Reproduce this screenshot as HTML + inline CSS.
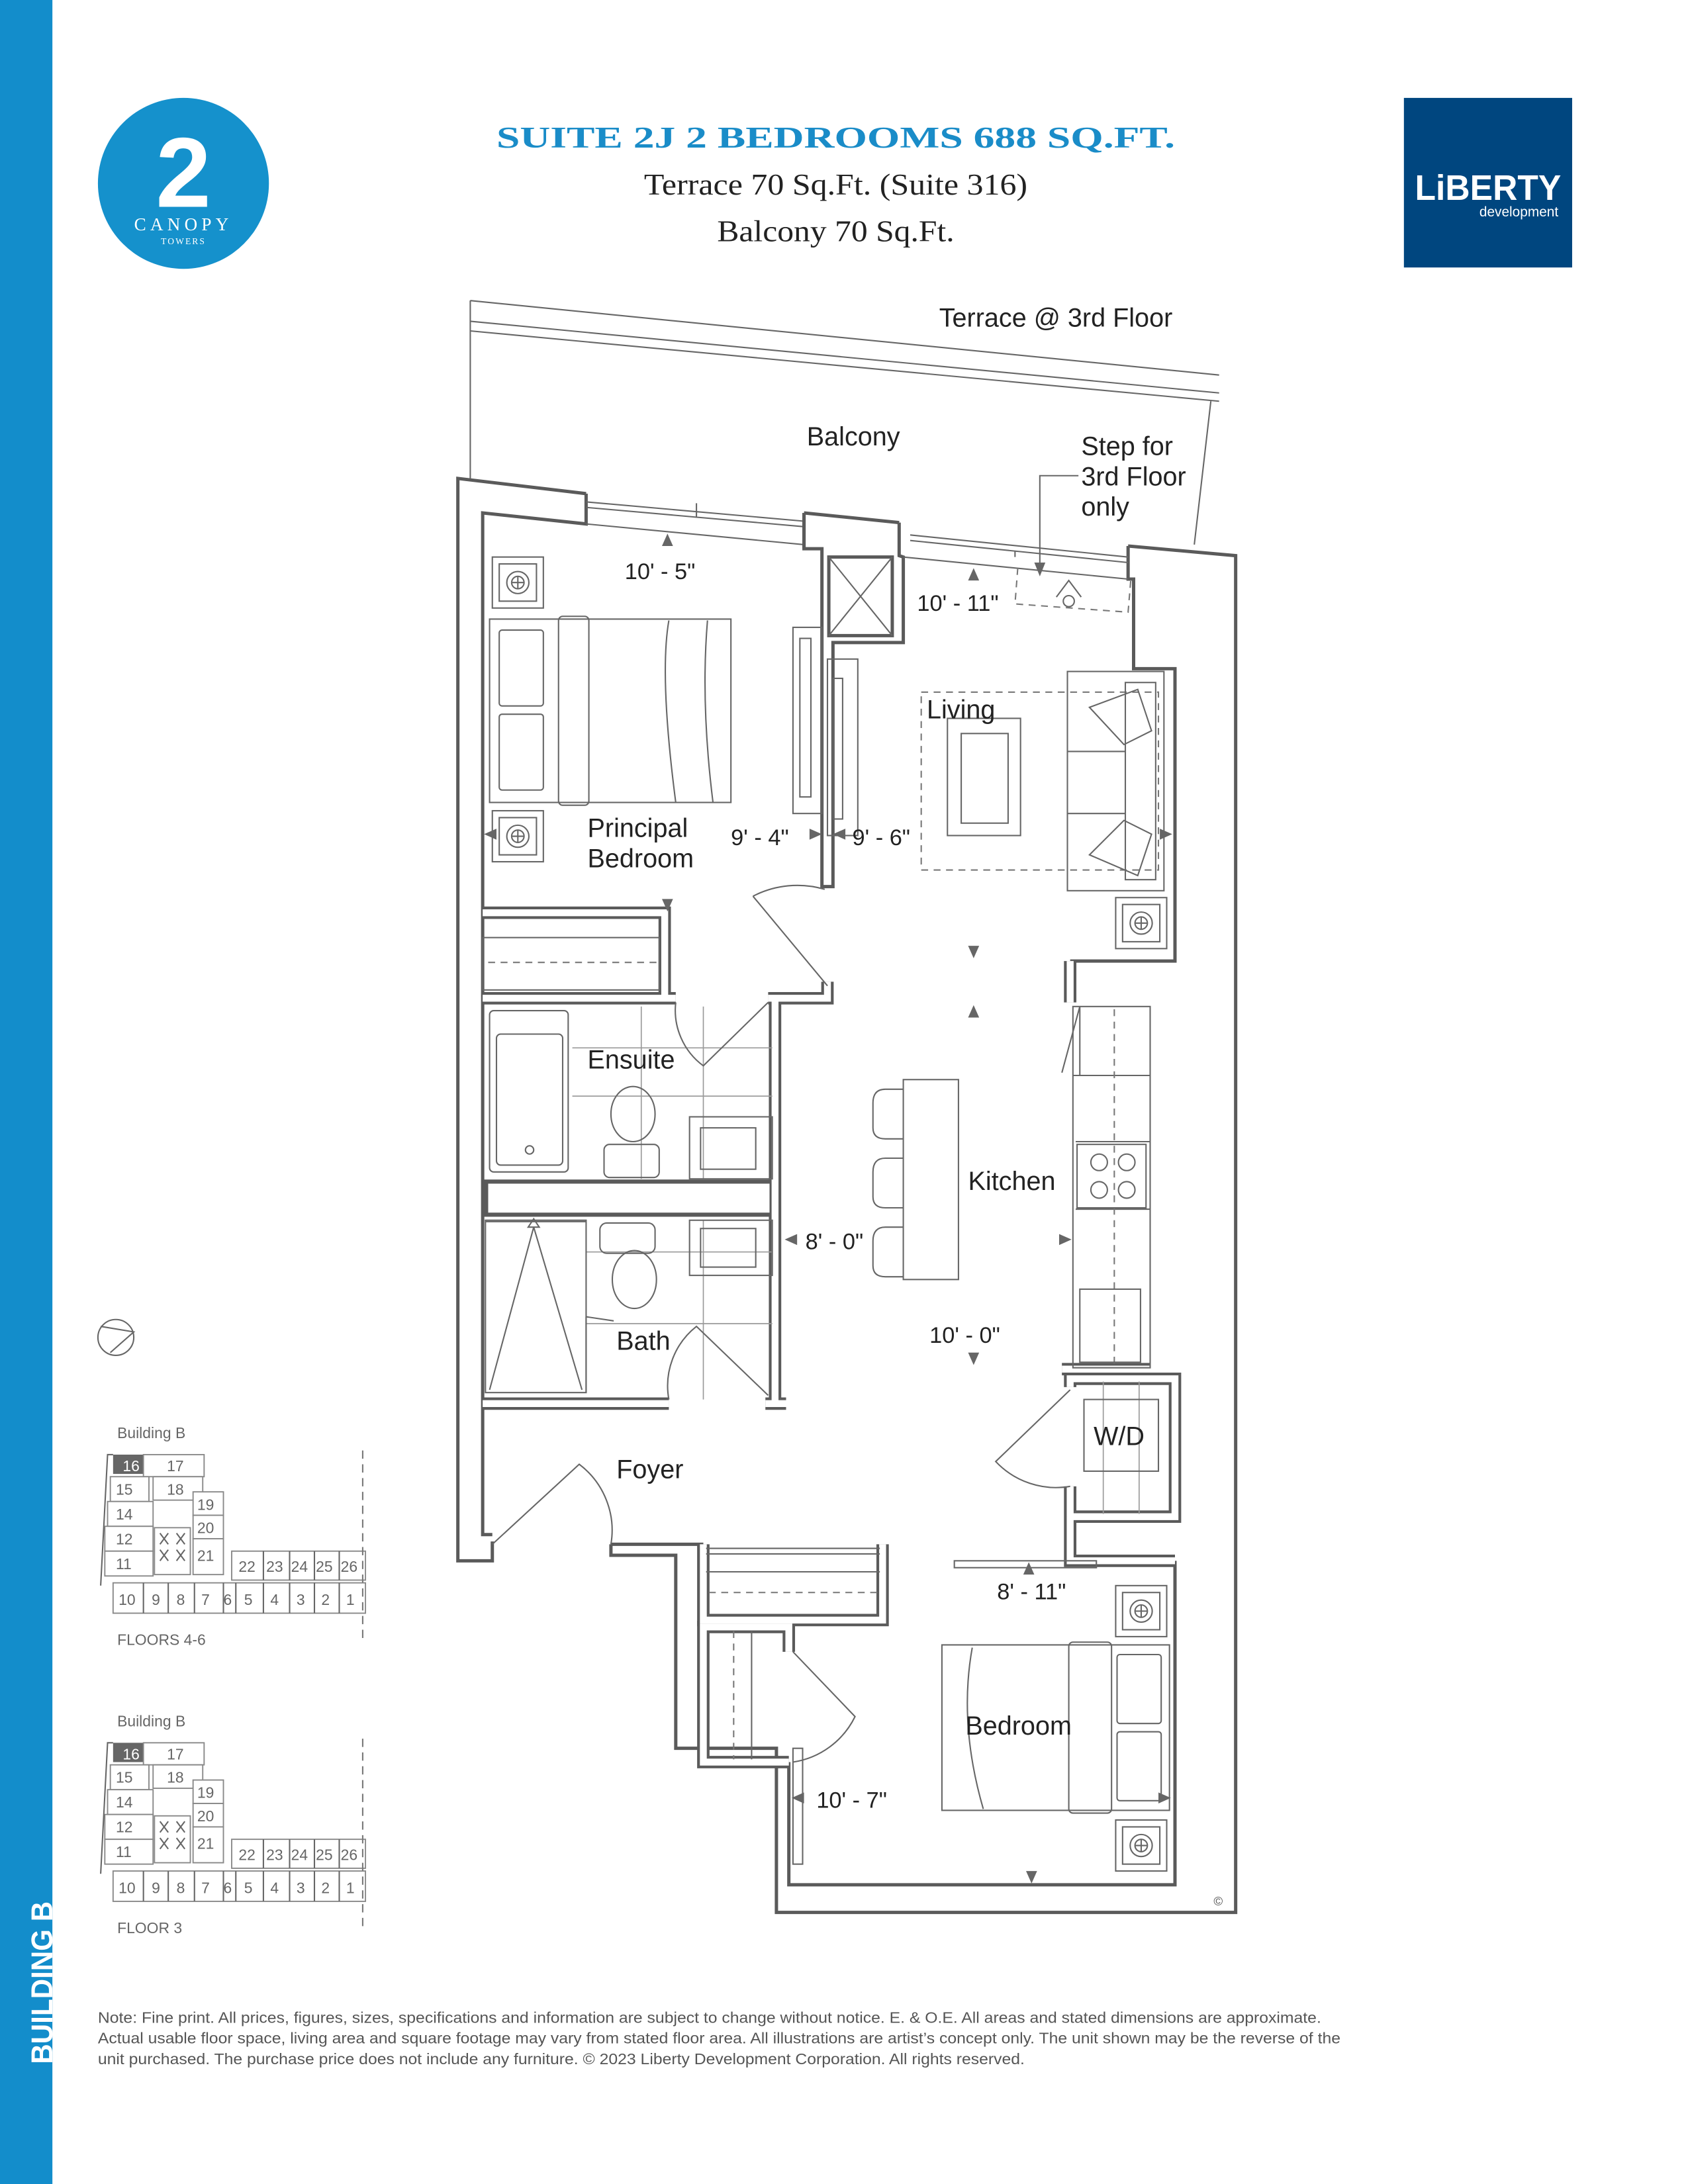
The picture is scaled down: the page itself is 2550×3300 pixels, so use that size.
<!DOCTYPE html>
<html><head><meta charset="utf-8">
<style>
html,body{margin:0;padding:0;background:#fff;}
svg{display:block}
.t{font-family:"Liberation Sans",sans-serif;fill:#222}
.s{font-family:"Liberation Serif",serif}
.d{stroke:#5a5a5a;stroke-width:9;fill:none;stroke-linejoin:miter}
.l{stroke:#fff;stroke-width:5;fill:none;stroke-linejoin:miter}
.ln{stroke:#5a5a5a;stroke-width:2.4;fill:none}
.th{stroke:#666;stroke-width:1;fill:none}
.tl{stroke:#9a9a9a;stroke-width:0.8;fill:none}
.ds{stroke:#777;stroke-width:1;fill:none;stroke-dasharray:5 4}
.ar{fill:#666}
.k{stroke:#888;stroke-width:0.9;fill:#fff}
.kt{font-family:"Liberation Sans",sans-serif;fill:#666;font-size:11px}
</style></head><body>
<svg width="2550" height="3300" viewBox="0 0 1224 1584" xmlns="http://www.w3.org/2000/svg">
<defs>
<path id="w1" d="M350,662 L482,662 L482,724"/>
<path id="w2" d="M350,724 L490,724 M557,724 L600,724 L600,712"/>
<path id="w3" d="M562,724 L562,1018"/>
<path id="w5" d="M350,1018 L485,1018 M555,1018 L570,1018"/>
<path id="w7" d="M770,993 L834,993 M776,1006 L776,1000 L852,1000 L852,1100 L776,1100 L776,1078 M776,1100 L776,1132 L852,1132"/>
<path id="w8" d="M510,1120 L510,1175 L640,1175 L640,1120"/>
<path id="w9" d="M572,1198 L572,1180 L510,1180 L510,1278 L572,1278"/>
<path id="w10" d="M776,697 L776,727"/>
<g id="ns"><rect x="0" y="0" width="37" height="37" class="th" fill="#fff"/><rect x="5" y="5" width="27" height="27" class="th"/><circle cx="18.5" cy="18.5" r="8" class="th"/><circle cx="18.5" cy="18.5" r="4.5" class="th"/><path d="M14,18.5h9M18.5,14v9" class="th"/></g>
<g id="key">
<text x="85" y="1043" class="kt" font-size="10.5">Building B</text>
<rect x="82" y="1055" width="22" height="14" fill="#666"/>
<text x="89" y="1067" class="kt" fill="#fff" style="fill:#fff">16</text>
<rect x="104" y="1055" width="44" height="16" class="k"/><text x="121" y="1067" class="kt">17</text>
<rect x="111" y="1071" width="36" height="17" class="k"/><text x="121" y="1084" class="kt">18</text>
<rect x="80" y="1071" width="28" height="18" class="k"/><text x="84" y="1084" class="kt">15</text>
<rect x="78" y="1089" width="33" height="18" class="k"/><text x="84" y="1102" class="kt">14</text>
<rect x="140" y="1082" width="22" height="17" class="k"/><text x="143" y="1095" class="kt">19</text>
<rect x="140" y="1099" width="22" height="17" class="k"/><text x="143" y="1112" class="kt">20</text>
<rect x="76" y="1107" width="35" height="18" class="k"/><text x="84" y="1120" class="kt">12</text>
<rect x="76" y="1125" width="35" height="18" class="k"/><text x="84" y="1138" class="kt">11</text>
<rect x="112" y="1108" width="26" height="34" class="k"/>
<path d="M116,1112l6,8m0,-8l-6,8M128,1112l6,8m0,-8l-6,8M116,1124l6,8m0,-8l-6,8M128,1124l6,8m0,-8l-6,8" class="th"/>
<rect x="140" y="1116" width="22" height="26" class="k"/><text x="143" y="1132" class="kt">21</text>
<rect x="168" y="1125" width="97" height="21" class="k"/>
<path d="M191,1125v21M210,1125v21M228,1125v21M246,1125v21" class="th"/>
<text x="173" y="1140" class="kt">22</text><text x="193" y="1140" class="kt">23</text><text x="211" y="1140" class="kt">24</text><text x="229" y="1140" class="kt">25</text><text x="247" y="1140" class="kt">26</text>
<rect x="82" y="1148" width="183" height="22" class="k"/>
<path d="M104,1148v22M122,1148v22M141,1148v22M162,1148v22M171,1148v22M191,1148v22M210,1148v22M228,1148v22M246,1148v22" class="th"/>
<text x="86" y="1164" class="kt">10</text><text x="110" y="1164" class="kt">9</text><text x="128" y="1164" class="kt">8</text><text x="146" y="1164" class="kt">7</text><text x="162" y="1164" class="kt">6</text><text x="177" y="1164" class="kt">5</text><text x="196" y="1164" class="kt">4</text><text x="215" y="1164" class="kt">3</text><text x="233" y="1164" class="kt">2</text><text x="251" y="1164" class="kt">1</text>
<path d="M73,1150 L78,1055 L82,1055" class="th"/>
<path d="M263,1052 V1190" stroke="#777" stroke-width="1" stroke-dasharray="6 4"/>
</g>
</defs>

<!-- sidebar -->
<rect x="0" y="0" width="38" height="1584" fill="#138dcb"/>
<text transform="translate(38,1497) rotate(-90)" font-family="Liberation Sans,sans-serif" font-weight="bold" font-size="22" fill="#fff" textLength="118" lengthAdjust="spacingAndGlyphs">BUILDING B</text>

<!-- logo -->
<circle cx="133" cy="133" r="62" fill="#1591cc"/>
<text x="133" y="150" text-anchor="middle" font-family="Liberation Sans,sans-serif" font-weight="bold" font-size="72" fill="#fff">2</text>
<text x="133" y="167" text-anchor="middle" class="s" font-size="13" fill="#fff" letter-spacing="3">CANOPY</text>
<text x="133" y="177" text-anchor="middle" class="s" font-size="6.5" fill="#fff" letter-spacing="1">TOWERS</text>

<!-- title -->
<text x="360" y="107" class="s" font-weight="bold" font-size="22" fill="#1a8cc8" textLength="492" lengthAdjust="spacingAndGlyphs">SUITE 2J  2 BEDROOMS  688 SQ.FT.</text>
<text x="606" y="141" text-anchor="middle" class="s" font-size="22" fill="#222" textLength="278" lengthAdjust="spacingAndGlyphs">Terrace 70 Sq.Ft. (Suite 316)</text>
<text x="606" y="175" text-anchor="middle" class="s" font-size="22" fill="#222" textLength="172" lengthAdjust="spacingAndGlyphs">Balcony 70 Sq.Ft.</text>

<!-- liberty -->
<rect x="1018" y="71" width="122" height="123" fill="#00467f"/>
<text x="1079" y="145" text-anchor="middle" font-family="Liberation Sans,sans-serif" font-weight="bold" font-size="26" fill="#fff" textLength="106" lengthAdjust="spacingAndGlyphs">LiBERTY</text>
<text x="1130" y="157" text-anchor="end" font-family="Liberation Sans,sans-serif" font-size="10" fill="#fff">development</text>

<!-- terrace -->
<path d="M341,218 V347 M341,218 L884,272 M341,233 L884,285 M341,240 L884,291 M878,291 L866,395" class="th"/>
<text x="681" y="237" class="t" font-size="19">Terrace @ 3rd Floor</text>
<text x="585" y="323" class="t" font-size="19">Balcony</text>
<text x="784" y="330" class="t" font-size="19">Step for</text>
<text x="784" y="352" class="t" font-size="19">3rd Floor</text>
<text x="784" y="374" class="t" font-size="19">only</text>
<path d="M782,345 H754 V410" class="th"/><path d="M750,408 l4,10 l4,-10z" class="ar"/>

<!-- outer walls (lines) -->
<path d="M357,1118 V1132 H332 V347 L425,358 M583,372 L652,379 M818,396 L896,403 V1387 H563 V1268 H490 V1128 H443 V1120" class="ln"/>
<path d="M357,1113 H350 V372 L425,380 V358 M583,372 V398 H596 V643 H604 V466 H655 V404 L652,403 V379 M818,396 V420 H822 V485 H852 V697 H776 M852,1132 V1367 H572 V1278 M443,1120 H510" class="ln"/>
<!-- windows -->
<path d="M425,364 L583,378 M425,368 L583,382 M425,380 L583,395 M505,365 V375" class="th"/>
<path d="M583,372 V398" class="ln"/>
<path d="M660,388 L818,404 M660,392 L818,408 M655,404 L818,420 M736,400 V404" class="th"/>
<path d="M738,412 L736,438 L818,444 L820,420" class="ds"/>
<circle cx="775" cy="436" r="4" class="th"/><path d="M766,433 L775,421 L784,433" class="th"/>
<!-- shaft -->
<rect x="601" y="404" width="46" height="57" class="ln"/>
<path d="M601,404 L647,461 M647,404 L601,461" class="th"/>

<!-- interior walls hollow -->
<g class="d"><use href="#w1"/><use href="#w2"/><use href="#w3"/><use href="#w5"/><use href="#w7"/><use href="#w8"/><use href="#w9"/><use href="#w10"/>
<path d="M350,869 H562" stroke-width="27"/></g>
<g class="l"><use href="#w1"/><use href="#w2"/><use href="#w3"/><use href="#w5"/><use href="#w7"/><use href="#w8"/><use href="#w9"/><use href="#w10"/>
<path d="M354,869 H558" stroke-width="21"/></g>

<!-- principal bedroom -->
<use href="#ns" x="357" y="404"/><use href="#ns" x="357" y="588"/>
<rect x="355" y="449" width="175" height="133" class="th" fill="#fff"/>
<rect x="405" y="447" width="22" height="137" rx="3" class="th"/>
<rect x="362" y="457" width="32" height="55" rx="2" class="th"/>
<rect x="362" y="518" width="32" height="55" rx="2" class="th"/>
<path d="M485,450 Q478,490 490,582 M513,450 Q508,510 517,582" class="th"/>
<rect x="575" y="455" width="21" height="135" class="th"/><rect x="580" y="463" width="8" height="115" class="th"/>
<path d="M546,650 A70,70 0 0 1 598,645 M546,650 L600,715" class="th"/>
<rect x="350" y="680" width="128" height="38" class="th"/>
<path d="M354,698 H476" class="ds"/>

<!-- living -->
<rect x="600" y="478" width="22" height="128" class="th"/><rect x="604" y="492" width="7" height="102" class="th"/>
<rect x="668" y="502" width="172" height="129" class="ds"/>
<rect x="687" y="521" width="53" height="85" class="th" fill="#fff"/><rect x="697" y="532" width="34" height="65" class="th"/>
<rect x="774" y="487" width="70" height="159" class="th" fill="#fff"/>
<rect x="816" y="495" width="22" height="143" class="th"/>
<path d="M774,545 H816 M774,590 H816" class="th"/>
<path d="M790,513 L825,500 L835,530 L815,540 Z M790,620 L825,635 L835,605 L815,595 Z" class="th" fill="#fff"/>
<text x="672" y="521" class="t" font-size="19">Living</text>
<use href="#ns" x="809" y="651"/>

<!-- ensuite -->
<g class="tl"><path d="M415,760 H560 M415,795 H560 M465,730 V855 M510,730 V855"/></g>
<rect x="355" y="733" width="57" height="117" rx="3" class="th" fill="#fff"/><rect x="360" y="750" width="48" height="95" rx="3" class="th"/>
<circle cx="384" cy="834" r="3" class="th"/>
<text x="426" y="775" class="t" font-size="19">Ensuite</text>
<ellipse cx="459" cy="808" rx="16" ry="20" class="th" fill="#fff"/><rect x="438" y="830" width="40" height="24" rx="4" class="th" fill="#fff"/>
<rect x="500" y="810" width="60" height="45" class="th" fill="#fff"/><rect x="508" y="818" width="40" height="30" class="th"/>
<path d="M490,727 A50,50 0 0 0 510,773 L557,727" class="th"/>

<!-- bath -->
<g class="tl"><path d="M425,908 H560 M425,960 H560 M510,885 V1015"/></g>
<rect x="352" y="885" width="73" height="125" class="th" fill="#fff"/>
<path d="M387,890 L355,1008 M387,890 L422,1008 M352,886 H425" class="th"/>
<path d="M383,890 l4,-6 l4,6z" class="th"/>
<rect x="435" y="887" width="40" height="22" rx="5" class="th" fill="#fff"/><ellipse cx="460" cy="928" rx="16" ry="21" class="th" fill="#fff"/>
<rect x="500" y="885" width="60" height="40" class="th" fill="#fff"/><rect x="508" y="891" width="40" height="28" class="th"/>
<path d="M425,955 L425,1010 M425,955 L445,958" class="th"/>
<text x="447" y="979" class="t" font-size="19">Bath</text>
<path d="M485,1015 A55,55 0 0 1 505,962 L557,1012" class="th"/>

<!-- kitchen -->
<rect x="655" y="783" width="40" height="145" class="th" fill="#fff"/>
<g class="th"><path d="M655,790 H642 Q633,790 633,800 V818 Q633,826 642,826 H655"/><path d="M655,840 H642 Q633,840 633,850 V868 Q633,876 642,876 H655"/><path d="M655,890 H642 Q633,890 633,900 V918 Q633,926 642,926 H655"/></g>
<text x="702" y="863" class="t" font-size="19">Kitchen</text>
<rect x="778" y="730" width="56" height="262" class="th" fill="#fff"/>
<path d="M783,730 V780 M778,780 H834 M780,828 H834 M780,877 H834" class="th"/>
<path d="M783,730 L770,778" class="th"/>
<path d="M808,732 V990" class="ds"/>
<rect x="781" y="830" width="50" height="46" class="th" fill="#fff"/>
<circle cx="797" cy="843" r="6" class="th"/><circle cx="817" cy="843" r="6" class="th"/><circle cx="797" cy="863" r="6" class="th"/><circle cx="817" cy="863" r="6" class="th"/>
<rect x="783" y="935" width="44" height="53" class="th"/>
<!-- W/D -->
<path d="M800,1002 V1098 M826,1002 V1098" class="tl"/>
<rect x="786" y="1015" width="54" height="52" class="th" fill="#fff"/>
<text x="793" y="1048" class="t" font-size="19">W/D</text>
<path d="M776,1008 L722,1060 A60,60 0 0 0 776,1078" class="th"/>

<!-- foyer -->
<text x="447" y="1072" class="t" font-size="19">Foyer</text>
<path d="M357,1120 L420,1062 A60,60 0 0 1 443,1120" class="th"/>
<!-- linen closet -->
<path d="M512,1123 H638 M512,1127 H638 M512,1140 H638" class="th"/>
<path d="M514,1155 H636" class="ds"/>
<!-- bedroom closet -->
<path d="M532,1183 V1276" class="ds"/><path d="M545,1183 V1276" class="th"/>
<path d="M575,1198 L620,1245 A60,60 0 0 1 575,1278" class="th"/>

<!-- bedroom -->
<rect x="692" y="1132" width="103" height="5" class="th" fill="#fff"/>
<rect x="575" y="1268" width="7" height="84" class="th" fill="#fff"/>
<use href="#ns" x="809" y="1150"/><use href="#ns" x="809" y="1320"/>
<rect x="683" y="1193" width="165" height="120" class="th" fill="#fff"/>
<rect x="775" y="1191" width="31" height="124" rx="3" class="th"/>
<rect x="810" y="1200" width="32" height="50" rx="2" class="th"/><rect x="810" y="1256" width="32" height="50" rx="2" class="th"/>
<path d="M705,1195 Q695,1250 713,1312" class="th"/>
<text x="700" y="1258" class="t" font-size="19">Bedroom</text>
<text x="880" y="1382" class="t" font-size="9" style="fill:#555">©</text>

<!-- labels -->
<text x="426" y="607" class="t" font-size="19">Principal</text>
<text x="426" y="629" class="t" font-size="19">Bedroom</text>
<g class="t" font-size="16.5">
<text x="453" y="420">10' - 5"</text>
<text x="665" y="443">10' - 11"</text>
<text x="530" y="613">9' - 4"</text>
<text x="618" y="613">9' - 6"</text>
<text x="584" y="906">8' - 0"</text>
<text x="674" y="974">10' - 0"</text>
<text x="723" y="1160">8' - 11"</text>
<text x="592" y="1311">10' - 7"</text>
</g>
<!-- arrows -->
<g class="ar">
<path d="M480,396 l4,-9 l4,9z"/><path d="M702,421 l4,-9 l4,9z"/>
<path d="M480,652 l4,9 l4,-9z"/><path d="M702,686 l4,9 l4,-9z"/>
<path d="M702,738 l4,-9 l4,9z"/><path d="M702,981 l4,9 l4,-9z"/>
<path d="M587,601 l9,4 l-9,4z"/><path d="M613,601 l-9,4 l9,4z"/>
<path d="M841,601 l9,4 l-9,4z"/><path d="M360,601 l-9,4 l9,4z"/>
<path d="M578,895 l-9,4 l9,4z"/><path d="M768,895 l9,4 l-9,4z"/>
<path d="M742,1142 l4,-9 l4,9z"/><path d="M583,1300 l-9,4 l9,4z"/>
<path d="M744,1357 l4,9 l4,-9z"/><path d="M840,1300 l9,4 l-9,4z"/>
</g>

<!-- compass -->
<circle cx="84" cy="970" r="13" class="th"/>
<path d="M73,962 L97,966 L80,981" class="th"/>

<!-- key plans -->
<use href="#key"/>
<text x="85" y="1193" class="kt" font-size="10.5">FLOORS 4-6</text>
<use href="#key" y="209"/>
<text x="85" y="1402" class="kt" font-size="10.5">FLOOR 3</text>

<!-- note -->
<g font-family="Liberation Sans,sans-serif" font-size="11.3" fill="#555">
<text x="71" y="1467" textLength="887" lengthAdjust="spacingAndGlyphs">Note: Fine print. All prices, figures, sizes, specifications and information are subject to change without notice. E. &amp; O.E. All areas and stated dimensions are approximate.</text>
<text x="71" y="1482" textLength="901" lengthAdjust="spacingAndGlyphs">Actual usable floor space, living area and square footage may vary from stated floor area. All illustrations are artist’s concept only. The unit shown may be the reverse of the</text>
<text x="71" y="1497" textLength="672" lengthAdjust="spacingAndGlyphs">unit purchased. The purchase price does not include any furniture. © 2023 Liberty Development Corporation. All rights reserved.</text>
</g>
</svg>
</body></html>
